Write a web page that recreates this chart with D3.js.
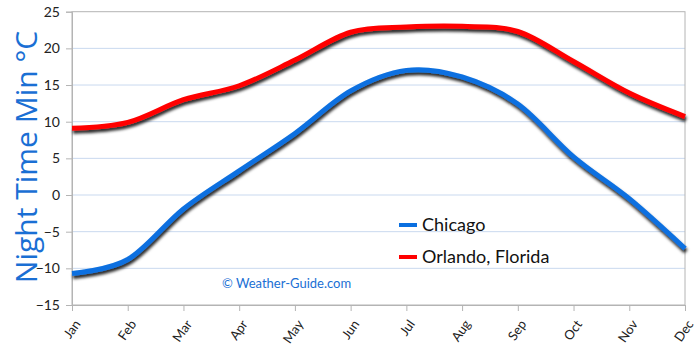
<!DOCTYPE html>
<html><head><meta charset="utf-8">
<script src="https://cdn.jsdelivr.net/npm/d3@7"></script>
<style>html,body{margin:0;padding:0;background:#fff}svg{display:block}</style>
</head><body>
<svg id="c" width="700" height="345"></svg>
<script>
const months = ["Jan","Feb","Mar","Apr","May","Jun","Jul","Aug","Sep","Oct","Nov","Dec"];
const chicago = [-10.7,-8.8,-1.9,3.3,8.4,14.2,17.0,16.1,12.4,5.2,-0.5,-7.3];
const orlando = [9.1,9.9,13.0,14.9,18.4,22.2,22.9,23.0,22.3,18.2,13.9,10.7];
const yTicks = [-15,-10,-5,0,5,10,15,20,25];
const seriesNames = ["Chicago","Orlando, Florida"];
const seriesColors = ["#0a6fe0","#ff0000"];

const svg = d3.select("#c");
const m = {l:72, r:685, t:11.7, b:305};
const x = d3.scalePoint().domain(months).range([m.l, m.r]);
const y = d3.scaleLinear().domain([-15,25]).range([m.b, m.t]);

const defs = svg.append("defs");
const f = defs.append("filter").attr("id","sh").attr("x","-5%").attr("y","-20%").attr("width","110%").attr("height","140%");
f.append("feDropShadow").attr("dx",1).attr("dy",3).attr("stdDeviation",1.6).attr("flood-color","#000").attr("flood-opacity",0.85);

// gridlines
svg.append("g").selectAll("line").data(yTicks.filter(d=>d>-15 && d<25)).join("line")
  .attr("x1",m.l).attr("x2",m.r).attr("y1",d=>y(d)).attr("y2",d=>y(d))
  .attr("stroke","#c9d9ef").attr("stroke-width",1);

// border
svg.append("rect").attr("x",m.l).attr("y",m.t).attr("width",m.r-m.l).attr("height",m.b-m.t)
  .attr("fill","none").attr("stroke","#b4b4b4").attr("stroke-width",1);

// y axis
const ya = svg.append("g").attr("transform",`translate(${m.l},0)`)
  .call(d3.axisLeft(y).tickValues(yTicks).tickSize(6).tickPadding(6));
ya.select(".domain").attr("stroke","#b4b4b4");
ya.selectAll(".tick line").attr("stroke","#b4b4b4");
ya.selectAll("text").attr("font-family","Lato, 'Open Sans', sans-serif").attr("font-size",14).attr("fill","#222");

// x axis
const xa = svg.append("g").attr("transform",`translate(0,${m.b})`)
  .call(d3.axisBottom(x).tickSize(6).tickPadding(0));
xa.select(".domain").attr("stroke","#b4b4b4");
xa.selectAll(".tick line").attr("stroke","#b4b4b4");
xa.selectAll("text").attr("font-family","Lato, 'Open Sans', sans-serif").attr("font-size",13).attr("fill","#222")
  .attr("text-anchor","end").attr("dy","0.35em")
  .attr("transform","translate(0,13) rotate(-55)");

// y title
svg.append("text").attr("transform","translate(37,157) rotate(-90)")
  .attr("text-anchor","middle").attr("font-family","'Open Sans', Lato, sans-serif")
  .attr("font-size",30).attr("fill","#1a6fd4").text("Night Time Min °C");

// lines
const line = d3.line().x((d,i)=>x(months[i])).y(d=>y(d)).curve(d3.curveCardinal.tension(0));
[orlando, chicago].forEach((s,k)=>{
  const idx = k===0 ? 1 : 0;
  svg.append("path").datum(s).attr("d",line).attr("fill","none")
    .attr("stroke",seriesColors[idx]).attr("stroke-width",5).attr("stroke-linejoin","round")
    .attr("filter","url(#sh)");
});

// legend
const lg = svg.append("g");
seriesNames.forEach((n,i)=>{
  const yy = 225 + i*32;
  lg.append("line").attr("x1",399).attr("x2",417).attr("y1",yy).attr("y2",yy)
    .attr("stroke",seriesColors[i]).attr("stroke-width",4);
  lg.append("text").attr("x",422).attr("y",yy).attr("dy","0.35em")
    .attr("font-family","Lato, 'Open Sans', sans-serif").attr("font-size",18).attr("fill","#111").text(n);
});

// watermark
svg.append("text").attr("x",222).attr("y",283).attr("dy","0.35em")
  .attr("font-family","Lato, 'Open Sans', sans-serif").attr("font-size",13).attr("fill","#1a6fd4")
  .text("©  Weather-Guide.com");
</script>
</body></html>
